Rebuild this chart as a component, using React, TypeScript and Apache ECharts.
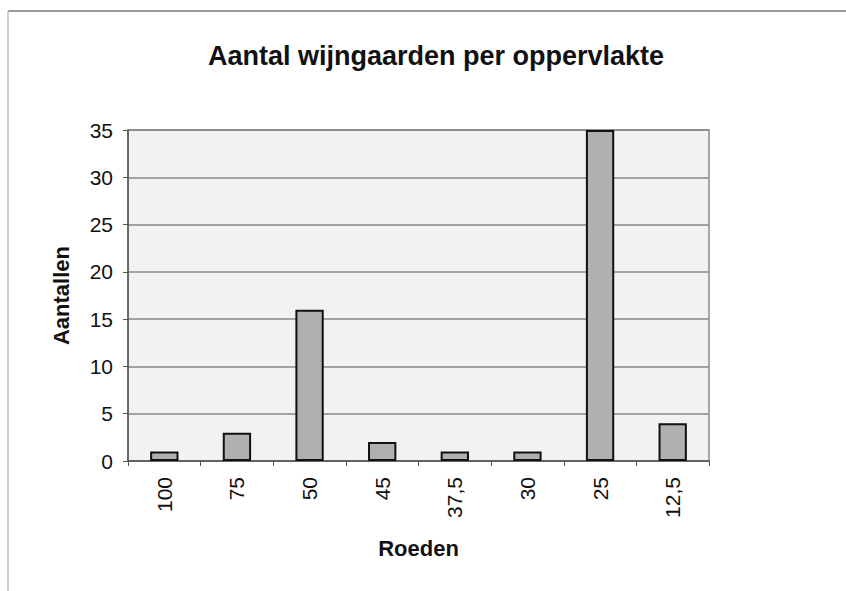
import React, { useEffect, useRef } from "react";
import * as echarts from "echarts";

const categories = ["100", "75", "50", "45", "37,5", "30", "25", "12,5"];
const counts = [1, 3, 16, 2, 1, 1, 35, 4];
const yTicks = { min: 0, max: 35, interval: 5 };

export default function App() {
  const ref = useRef<HTMLDivElement>(null);
  useEffect(() => {
    document.body.style.margin = "0";
    const chart = echarts.init(ref.current!, null, { renderer: "svg" });
    const font = "Arial, 'Liberation Sans', sans-serif";
    chart.setOption({
      animation: false,
      backgroundColor: "#ffffff",
      title: {
        text: "Aantal wijngaarden per oppervlakte",
        left: 431,
        textAlign: "center",
        top: 37,
        textStyle: { fontFamily: font, fontSize: 27, fontWeight: "bold", color: "#111" },
      },
      graphic: [
        { type: "line", shape: { x1: 8, y1: 11, x2: 846, y2: 11 }, style: { stroke: "#999", lineWidth: 2 } },
        { type: "line", shape: { x1: 8, y1: 11, x2: 8, y2: 591 }, style: { stroke: "#bbb", lineWidth: 1.5 } },
      ],
      grid: {
        left: 128,
        right: 137,
        top: 130,
        bottom: 130,
        show: true,
        backgroundColor: "#f2f2f2",
        borderColor: "#8a8a8a",
        borderWidth: 1.5,
      },
      xAxis: {
        type: "category",
        data: categories,
        name: "Roeden",
        nameLocation: "middle",
        nameGap: 76,
        nameTextStyle: { fontFamily: font, fontSize: 22, fontWeight: "bold", color: "#111" },
        axisLine: { lineStyle: { color: "#555", width: 1.5 } },
        axisTick: { show: true, inside: false, length: 5, lineStyle: { color: "#555" } },
        axisLabel: { rotate: 90, fontFamily: font, fontSize: 21, color: "#111", margin: 16 },
      },
      yAxis: {
        type: "value",
        min: yTicks.min,
        max: yTicks.max,
        interval: yTicks.interval,
        name: "Aantallen",
        nameLocation: "middle",
        nameGap: 56,
        nameRotate: 90,
        nameTextStyle: { fontFamily: font, fontSize: 22, fontWeight: "bold", color: "#111" },
        axisLine: { show: true, lineStyle: { color: "#555", width: 1.5 } },
        axisTick: { show: true, length: 5, lineStyle: { color: "#555" } },
        axisLabel: { fontFamily: font, fontSize: 21, color: "#111", margin: 15 },
        splitLine: { lineStyle: { color: "#888", width: 1.5 } },
      },
      series: [
        {
          type: "bar",
          data: counts,
          barWidth: "39%",
          itemStyle: { color: "#b0b0b0", borderColor: "#111", borderWidth: 2 },
        },
      ],
    });
    return () => chart.dispose();
  }, []);
  return <div ref={ref} style={{ width: 846, height: 591 }} />;
}
